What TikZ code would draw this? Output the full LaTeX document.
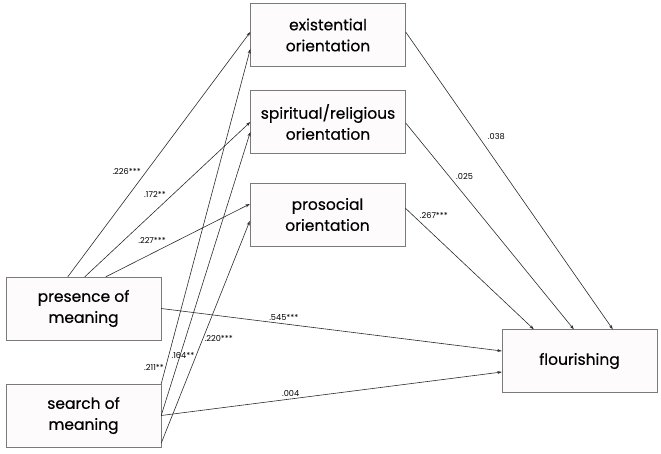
\documentclass[tikz,border=0pt]{standalone}
\usepackage{fontspec}
\setmainfont{Poppins}
\newfontfamily\boxfont{Poppins}[FakeBold=0.4]
\usetikzlibrary{arrows.meta}
\definecolor{boxfill}{HTML}{FEFBFC}
\definecolor{boxline}{HTML}{7A7A7A}
\definecolor{pathline}{HTML}{2B2B2B}

\begin{document}
\begin{tikzpicture}[x=1pt,y=-1pt,
  var/.style={draw=boxline,fill=boxfill,minimum width=155pt,minimum height=63pt,
    inner sep=0pt,align=center,font=\boxfont\fontsize{15.5}{21}\selectfont},
  path/.style={draw=pathline,line width=0.6pt,-{Stealth[length=4.5pt,width=3pt]}},
  coef/.style={font=\fontsize{8.2}{9}\selectfont,inner sep=1.5pt,text=black}]
  \useasboundingbox (0,0) rectangle (661,453);
  % mediators
  \node[var] (exist) at (328,35) {existential\\orientation};
  \node[var] (spirit) at (328,122) {spiritual/religious\\orientation};
  \node[var] (prosoc) at (327.5,214.5) {prosocial\\orientation};
  % predictors and outcome
  \node[var] (presence) at (83.5,308.5) {presence of\\meaning};
  \node[var] (search) at (83.5,415.5) {search of\\meaning};
  \node[var] (flour) at (579.5,361) {flourishing};

  % presence of meaning
  \draw[path] ([xshift=62pt]presence.north west) -- node[coef,pos=0.41,anchor=south east] {.226***} ([yshift=3pt]exist.west);
  \draw[path] ([xshift=79pt]presence.north west) -- node[coef,pos=0.5,anchor=south east] {.172**} (spirit.west);
  \draw[path] ([xshift=100pt]presence.north west) -- node[coef,pos=0.43,anchor=south east] {.227***} ([yshift=10.5pt]prosoc.west);
  \draw[path] (presence.east) -- node[coef,pos=0.36,above=1pt] {.545***} ([yshift=10pt]flour.west);
  % search of meaning
  \draw[path] (search.north east) -- node[coef,pos=0.05,anchor=east] {.211**} ([yshift=-14pt]exist.west);
  \draw[path] (search.east) -- node[coef,pos=0.21,xshift=3pt] {.164**} ([yshift=-10pt]spirit.west);
  \draw[path] ([yshift=4pt]search.south east) -- node[coef,pos=0.47,anchor=west] {.220***} ([yshift=-6.5pt]prosoc.west);
  \draw[path] (search.east) -- node[coef,pos=0.38,above=1pt] {.004} ([yshift=-11pt]flour.west);
  % mediators to flourishing
  \draw[path] ([yshift=3pt]exist.east) -- node[coef,pos=0.35,anchor=west,xshift=8pt] {.038} ([xshift=111pt]flour.north west);
  \draw[path] ([yshift=-1pt]spirit.east) -- node[coef,pos=0.26,anchor=west,xshift=5pt] {.025} ([xshift=72pt]flour.north west);
  \draw[path] ([yshift=6.5pt]prosoc.east) -- node[coef,pos=0.1,anchor=south west] {.267***} ([xshift=32pt]flour.north west);
\end{tikzpicture}
\end{document}
